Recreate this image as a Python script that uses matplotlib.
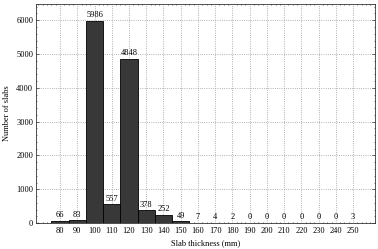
import matplotlib
matplotlib.use("Agg")
import matplotlib.pyplot as plt
from matplotlib.ticker import AutoMinorLocator

thickness = [80, 90, 100, 110, 120, 130, 140, 150, 160, 170, 180, 190, 200, 210, 220, 230, 240, 250]
counts = [66, 83, 5986, 557, 4848, 378, 252, 49, 7, 4, 2, 0, 0, 0, 0, 0, 0, 3]
yticks = [0, 1000, 2000, 3000, 4000, 5000, 6000]

plt.rcParams['font.family'] = ['Liberation Serif', 'DejaVu Serif']
fs = 6

fig = plt.figure(figsize=(3.78, 2.49), dpi=100)
ax = fig.add_axes([0.095, 0.104, 0.897, 0.880])

pos = list(range(len(thickness)))
ax.bar(pos, counts, width=1.0, color='#383838', edgecolor='black', linewidth=0.6, zorder=3)
for p, c in zip(pos, counts):
    ax.text(p, c + 50, str(c), ha='center', va='bottom', fontsize=fs, zorder=4)

ax.set_xlim(-1.4, 18.27)
ax.set_ylim(0, 6480)
ax.set_xticks(pos)
ax.set_xticklabels([str(t) for t in thickness], fontsize=fs)
ax.set_yticks(yticks)
ax.set_yticklabels([str(t) for t in yticks], fontsize=fs)
ax.yaxis.set_minor_locator(AutoMinorLocator(5))
ax.xaxis.set_minor_locator(AutoMinorLocator(4))
ax.tick_params(which='both', direction='in', top=True, right=True, length=2, width=0.4, pad=2)
ax.tick_params(which='minor', length=1)
ax.tick_params(axis='x', which='major', length=0, pad=3)
ax.grid(True, which='major', linestyle=':', color='#999999', linewidth=0.6, zorder=0)
for s in ax.spines.values():
    s.set_linewidth(0.6)
    s.set_color('#333333')

ax.set_xlabel('Slab thickness (mm)', fontsize=fs, labelpad=2.5)
ax.set_ylabel('Number of slabs', fontsize=fs, labelpad=4)

fig.savefig('out.png', dpi=100)
